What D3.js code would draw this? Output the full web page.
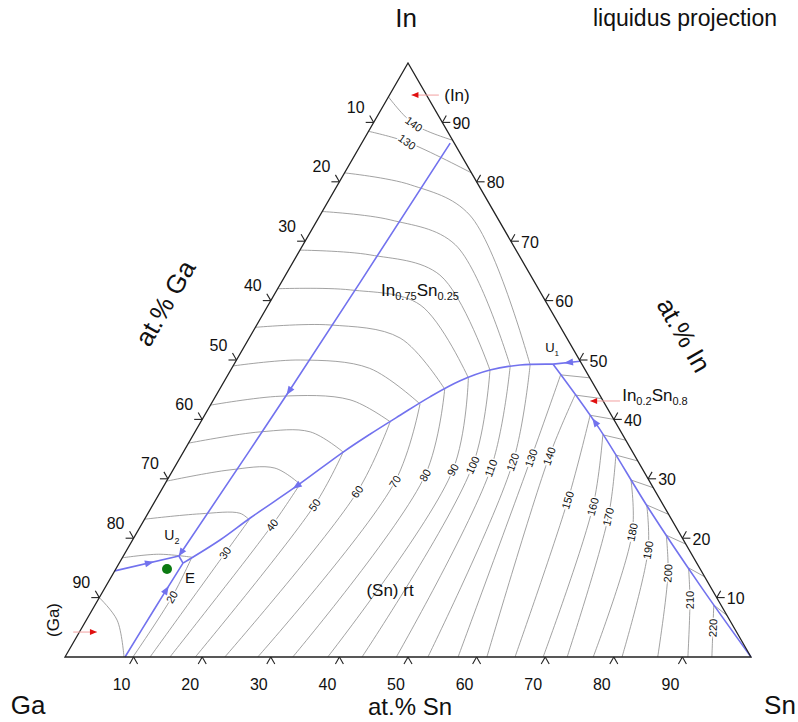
<!DOCTYPE html>
<html>
<head>
<meta charset="utf-8">
<script src="https://cdn.jsdelivr.net/npm/d3@7"></script>
<style>
  body { margin: 0; background: #fff; }
  text { font-family: Arial, "Liberation Sans", sans-serif; fill: #111; }
</style>
</head>
<body>
<div id="chart"></div>
<script>
// compositions are [at.% Sn, at.% In], Ga is the rest
const ticks = [10, 20, 30, 40, 50, 60, 70, 80, 90];

// univariant lines (blue), listed in the direction of falling temperature
const lineGaSnToE = [[8.75, 0], [9.0, 8], [9.3, 15.8]];
const lineInToU2 = [[12.9, 86.5], [10.3, 44.9], [8.1, 17.0]];
const lineGaInToU2 = [[0, 14.5], [8.1, 17.0]];
const lineU2ToE = [[8.1, 17.0], [9.3, 15.8]];
const lineU1ToE = [[46.5, 49.3], [41.75, 49.16], [37.8, 48.3], [34.35, 46.5], [31.3, 43.8],
                   [28.5, 40.7], [25.7, 37.5], [23.3, 34.5], [19.4, 28.8], [15.3, 23.4],
                   [12.75, 19.7], [9.3, 15.8]];
const lineInSnToU1 = [[50.2, 49.8], [46.5, 49.3]];
const lineSnToU1 = [[100, 0], [86.5, 12.1], [72.9, 24.7], [58.4, 38.7], [46.5, 49.3]];

// isotherms in the (Sn) field: bottom, label point, end on the valley
const snTemps = [20, 30, 40, 50, 60, 70, 80, 90, 100, 110, 120, 130, 140, 150, 160, 170, 180, 190, 200, 210, 220];
const snIsotherms = [
  [[9.9, 0], [10.55, 10.1], [10.1, 16.8]],
  [[12.4, 0], [14.6, 17.5], [15.3, 23.1]],
  [[15.3, 0], [19.1, 22.2], [19.7, 29.1]],
  [[19.0, 0], [23.6, 25.6], [23.3, 34.5]],
  [[23.3, 0], [28.7, 27.8], [27.6, 39.6]],
  [[28.1, 0], [33.35, 29.5], [30.45, 42.6]],
  [[33.2, 0], [37.2, 30.6], [32.8, 45.1]],
  [[38.3, 0], [40.8, 31.5], [35.3, 47.0]],
  [[43.3, 0], [43.3, 32.3], [37.8, 48.3]],
  [[48.3, 0], [46.2, 31.8], [40.4, 49.0]],
  [[52.9, 0], [48.9, 32.8], [43.2, 49.2]],
  [[57.3, 0], [51.2, 33.5], [48.5, 47.5]],
  [[61.5, 0], [53.7, 33.8], [52.3, 44.1]],
  [[65.6, 0], [60.1, 26.4], [56.2, 40.7]],
  [[69.7, 0], [64.3, 25.3], [59.7, 37.4]],
  [[73.2, 0], [67.4, 23.6], [63.3, 34.0]],
  [[77.0, 0], [72.2, 21.0], [67.6, 29.8]],
  [[81.2, 0], [76.0, 18.0], [72.0, 25.6]],
  [[86.4, 0], [80.85, 14.1], [77.4, 20.5]],
  [[90.8, 0], [86.3, 9.6], [83.4, 15.0]],
  [[94.3, 0], [92.0, 4.9], [90.2, 8.75]]
];

// isotherms in the In0.2Sn0.8 field (between the Sn/U1 valley and the In-Sn side)
const gammaIsotherms = [
  [[48.5, 47.5], [53, 47]],
  [[52.3, 44.1], [56.5, 43.5]],
  [[56.2, 40.7], [60, 40]],
  [[59.7, 37.4], [63.5, 36.5]],
  [[63.3, 34.0], [67, 33]],
  [[67.6, 29.8], [71.5, 28.5]],
  [[72.0, 25.6], [76, 24]],
  [[77.4, 20.5], [81, 19]],
  [[83.4, 15.0], [86.5, 13.5]],
  [[90.2, 8.75], [93, 7]]
];

// isotherms in the (In) and In0.75Sn0.25 fields, from the Ga-In side
const inIsotherms = [
  [[0, 16.7], [5, 17.3], [10.1, 16.8]],
  [[0, 23.2], [7.6, 24.1], [13.4, 24.2], [15.3, 23.1]],
  [[0, 29.6], [8.3, 31.5], [14.7, 31.8], [19.7, 29.1]],
  [[0, 36.0], [9.5, 37.9], [16.8, 37.9], [23.3, 34.5]],
  [[0, 42.4], [9.4, 43.9], [19.9, 43.3], [27.6, 39.6]],
  [[0, 49.0], [9.3, 50.0], [20.1, 48.6], [30.45, 42.6]],
  [[0, 55.5], [10.7, 55.9], [22.0, 53.7], [32.8, 45.1]],
  [[0, 62.0], [10.7, 61.8], [22.1, 59.3], [35.3, 47.0]],
  [[0, 68.5], [10.6, 67.7], [22.5, 64.3], [37.8, 48.3]],
  [[0, 75.0], [10.6, 73.6], [22.2, 69.4], [40.4, 49.0]],
  [[0, 81.5], [10.6, 79.5], [21.8, 74.4], [43.2, 49.2]],
  [[0, 88.5], [6.5, 86.7], [18.5, 81.5]],
  [[0, 94.3], [6.0, 89.7], [13.0, 87.0]]
];
const inLabels = [[130, [6.5, 86.7]], [140, [6.0, 89.7]]];

// (Ga) field isotherm
const gaIsotherm = [[0, 10], [4.5, 6.2], [8.6, 0]];

// special points and phase labels
const points = { U1: [46.5, 49.3], U2: [8.1, 17.0], E: [9.3, 15.8] };
const greenDot = [7.47, 14.8];
const redArrows = [
  { from: [7.2, 94.6], to: [3.2, 94.6] },
  { from: [59.35, 43.1], to: [55.0, 43.1] },
  { from: [-0.9, 4.2], to: [2.56, 4.2] }
];

const W = 798, H = 722;
const svg = d3.select("#chart").append("svg")
  .attr("width", W)
  .attr("height", H);

// ternary projection through two linear scales
const x = d3.scaleLinear().domain([0, 100]).range([65, 751]);
const y = d3.scaleLinear().domain([0, 100]).range([657, 63]);
const px = d => x(d[0] + d[1] / 2);
const py = d => y(d[1]);

const smooth = d3.line().x(px).y(py).curve(d3.curveCatmullRom.alpha(0.5));
const straight = d3.line().x(px).y(py);

// isotherms
const iso = svg.append("g")
  .attr("fill", "none")
  .attr("stroke", "#8a8a8a")
  .attr("stroke-width", 0.8);

[snIsotherms, gammaIsotherms, inIsotherms, [gaIsotherm]].forEach(set => {
  iso.selectAll(null)
    .data(set)
    .enter()
    .append("path")
    .attr("d", smooth);
});

// univariant lines
const blue = "#7272ee";
const uni = svg.append("g").attr("fill", "none").attr("stroke", blue).attr("stroke-width", 1.6);
const lines = [
  { d: lineGaSnToE, t: 0.72 },
  { d: lineInToU2, t: 0.6 },
  { d: lineGaInToU2, t: 0.55 },
  { d: lineU2ToE, t: null },
  { d: lineU1ToE, t: 0.68 },
  { d: lineInSnToU1, t: 0.45 },
  { d: lineSnToU1, t: 0.8 }
];
lines.forEach(l => {
  const p = uni.append("path").attr("d", l.d.length > 2 ? smooth(l.d) : straight(l.d));
  if (l.t === null) return;
  const node = p.node();
  const len = node.getTotalLength();
  const a = node.getPointAtLength(len * l.t);
  const b = node.getPointAtLength(len * l.t + 1);
  const ang = Math.atan2(b.y - a.y, b.x - a.x) * 180 / Math.PI;
  svg.append("path")
    .attr("d", "M4,0L-5,-3.5L-5,3.5Z")
    .attr("fill", blue)
    .attr("transform", `translate(${a.x},${a.y}) rotate(${ang})`);
});
// arrow at U2 end of the In valley
{
  const a = [px(lineInToU2[2]), py(lineInToU2[2])];
  const b = [px(lineInToU2[1]), py(lineInToU2[1])];
  const ang = Math.atan2(a[1] - b[1], a[0] - b[0]) * 180 / Math.PI;
  svg.append("path")
    .attr("d", "M0,0L-8,-3.5L-8,3.5Z")
    .attr("fill", blue)
    .attr("transform", `translate(${a[0]},${a[1]}) rotate(${ang})`);
}

// isotherm labels
svg.append("g").selectAll("text")
  .data(snIsotherms)
  .enter()
  .append("text")
  .attr("transform", d => {
    const ang = Math.atan2(py(d[2]) - py(d[0]), px(d[2]) - px(d[0])) * 180 / Math.PI;
    return `translate(${px(d[1])},${py(d[1])}) rotate(${ang})`;
  })
  .attr("text-anchor", "middle")
  .attr("dy", "0.35em")
  .attr("font-size", 11)
  .attr("stroke", "#fff")
  .attr("stroke-width", 3)
  .attr("paint-order", "stroke")
  .text((d, i) => snTemps[i]);

svg.append("g").selectAll("text")
  .data(inLabels)
  .enter()
  .append("text")
  .attr("transform", d => `translate(${px(d[1])},${py(d[1])}) rotate(36)`)
  .attr("text-anchor", "middle")
  .attr("dy", "0.35em")
  .attr("font-size", 11)
  .attr("stroke", "#fff")
  .attr("stroke-width", 3)
  .attr("paint-order", "stroke")
  .text(d => d[0]);

// triangle
const corners = [[0, 0], [100, 0], [0, 100]];
svg.append("path")
  .attr("d", straight(corners) + "Z")
  .attr("fill", "none")
  .attr("stroke", "#222")
  .attr("stroke-width", 1.3);

// ticks: two short legs pointing out of the triangle
const tl = 8;
const rad = a => a * Math.PI / 180;
const sides = [
  { pos: t => [t, 0], legs: [240, 300], off: [-12, 27] },        // at.% Sn
  { pos: t => [0, 100 - t], legs: [120, 180], off: [-18, -15] }, // at.% Ga
  { pos: t => [100 - t, t], legs: [0, 60], off: [19, 1] }        // at.% In
];
const tg = svg.append("g");
sides.forEach(s => {
  ticks.forEach(t => {
    const c = s.pos(t);
    const cx = px(c), cy = py(c);
    s.legs.forEach(a => {
      tg.append("line")
        .attr("x1", cx).attr("y1", cy)
        .attr("x2", cx + tl * Math.cos(rad(a)))
        .attr("y2", cy - tl * Math.sin(rad(a)))
        .attr("stroke", "#222")
        .attr("stroke-width", 1.1);
    });
    tg.append("text")
      .attr("x", cx + s.off[0])
      .attr("y", cy + s.off[1])
      .attr("text-anchor", "middle")
      .attr("dy", "0.35em")
      .attr("font-size", 16)
      .text(t);
  });
});

// corner and axis titles
const big = svg.append("g").attr("font-size", 26);
big.append("text").attr("x", px([0, 100]) - 2).attr("y", 27).attr("text-anchor", "middle").text("In");
big.append("text").attr("x", 28).attr("y", 714).attr("text-anchor", "middle").text("Ga");
big.append("text").attr("x", 780).attr("y", 714).attr("text-anchor", "middle").text("Sn");
big.append("text").attr("x", 410).attr("y", 715).attr("text-anchor", "middle").attr("font-size", 24).text("at.% Sn");
big.append("text").attr("transform", "translate(165,303) rotate(-60)").attr("text-anchor", "middle").attr("dy", "0.35em").text("at.% Ga");
big.append("text").attr("transform", "translate(684,335) rotate(60)").attr("text-anchor", "middle").attr("dy", "0.35em").text("at.% In");
svg.append("text").attr("x", 685).attr("y", 26).attr("text-anchor", "middle").attr("font-size", 23).text("liquidus projection");

// phase labels
const lab = svg.append("g").attr("font-size", 17);
function sub(sel, parts, small) {
  parts.forEach((p, i) => {
    sel.append("tspan")
      .attr("font-size", i % 2 ? small : null)
      .attr("dy", i === 0 ? 0 : (i % 2 ? 4 : -4))
      .text(p);
  });
}
const at = (sel, c) => sel.attr("x", px(c)).attr("y", py(c)).attr("dy", "0.35em").attr("text-anchor", "middle");
at(lab.append("text"), [9.84, 94.6]).text("(In)");
sub(at(lab.append("text"), [21.36, 60.77]), ["In", "0.75", "Sn", "0.25"], 11);
sub(at(lab.append("text"), [64.45, 43.1]), ["In", "0.2", "Sn", "0.8"], 11);
sub(lab.append("text").attr("x", px(points.U1) - 1).attr("y", py(points.U1) - 12).attr("dy", "0.35em").attr("text-anchor", "middle").attr("font-size", 13),
  ["U", "1"], 8);
sub(lab.append("text").attr("x", px(points.U2) - 7).attr("y", py(points.U2) - 16).attr("dy", "0.35em").attr("text-anchor", "middle").attr("font-size", 14),
  ["U", "2"], 9);
lab.append("text").attr("x", px(points.E) + 7).attr("y", py(points.E) + 15).attr("dy", "0.35em").attr("text-anchor", "middle").attr("font-size", 15).text("E");
at(lab.append("text"), [41.74, 11.28]).text("(Sn) rt");
lab.append("text").attr("transform", "translate(53,620) rotate(-90)").attr("dy", "0.35em").attr("text-anchor", "middle").text("(Ga)");

// red arrows
redArrows.forEach(r => {
  const x1 = px(r.from), y1 = py(r.from), x2 = px(r.to), y2 = py(r.to);
  const ang = Math.atan2(y2 - y1, x2 - x1) * 180 / Math.PI;
  svg.append("line").attr("x1", x1).attr("y1", y1).attr("x2", x2).attr("y2", y2)
    .attr("stroke", "#f2a0a0").attr("stroke-width", 1);
  svg.append("path").attr("d", "M0,0L-7,-3L-7,3Z").attr("fill", "#e01010")
    .attr("transform", `translate(${x2},${y2}) rotate(${ang})`);
});

// green point
svg.append("circle")
  .attr("cx", px(greenDot)).attr("cy", py(greenDot))
  .attr("r", 5)
  .attr("fill", "#0c7a12");
</script>
</body>
</html>
